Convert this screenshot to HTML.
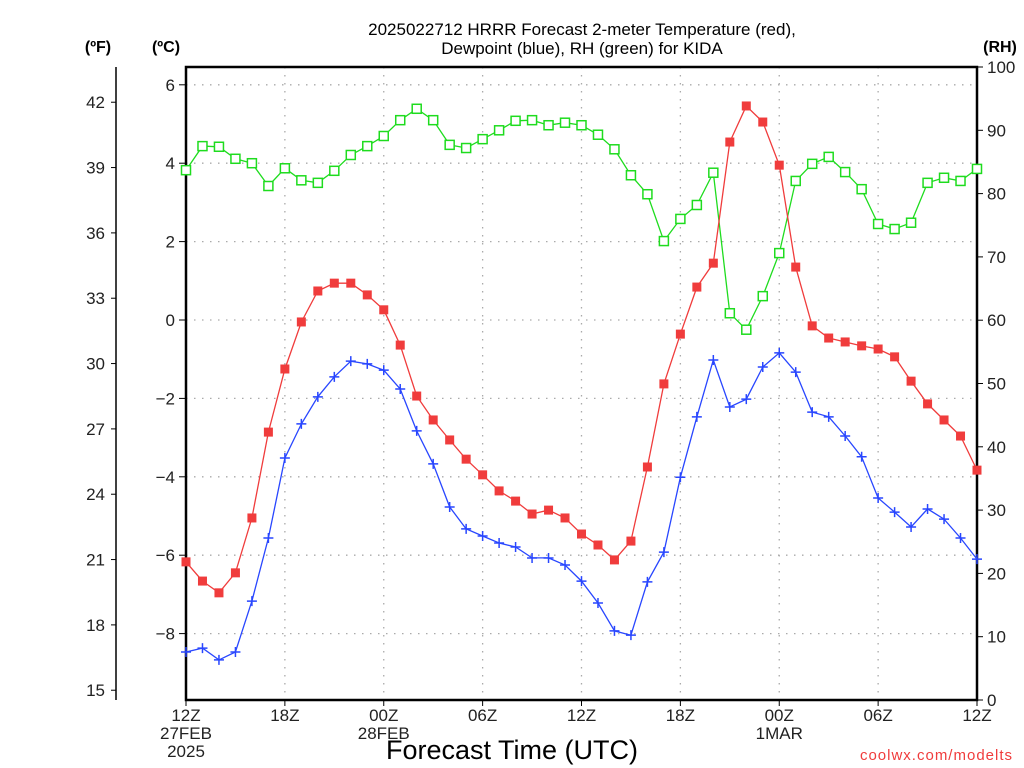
<!DOCTYPE html>
<html><head><meta charset="utf-8">
<style>
html,body{margin:0;padding:0;background:#fff;}
svg{display:block;font-family:"Liberation Sans",sans-serif;}
</style></head>
<body>
<svg id="chart" width="1024" height="768" viewBox="0 0 1024 768" xmlns="http://www.w3.org/2000/svg">
<rect x="0" y="0" width="1024" height="768" fill="#fff"/>
<g id="grid"></g>
<g id="axes"></g>
<g id="series"></g>
<text x="582" y="35" font-size="17" text-anchor="middle">2025022712 HRRR Forecast 2-meter Temperature (red),</text>
<text x="582" y="54" font-size="17" text-anchor="middle">Dewpoint (blue), RH (green) for KIDA</text>
<text x="98" y="52" font-size="16" font-weight="bold" text-anchor="middle">(ºF)</text>
<text x="166" y="52" font-size="16" font-weight="bold" text-anchor="middle">(ºC)</text>
<text x="1000" y="52" font-size="16" font-weight="bold" text-anchor="middle">(RH)</text>
<text x="512" y="759" font-size="27" text-anchor="middle">Forecast Time (UTC)</text>
<text x="1013" y="760" font-size="15" fill="#f03c3c" text-anchor="end" letter-spacing="1">coolwx.com/modelts</text>
</svg>
<script>
const hours = [];
for (let i = 0; i <= 48; i++) hours.push(i);
const tempC = [-6.17,-6.66,-6.96,-6.45,-5.05,-2.86,-1.25,-0.05,0.74,0.94,0.94,0.64,0.26,-0.64,-1.94,-2.55,-3.06,-3.55,-3.95,-4.36,-4.62,-4.95,-4.85,-5.05,-5.46,-5.74,-6.12,-5.64,-3.75,-1.63,-0.36,0.84,1.45,4.54,5.46,5.05,3.95,1.35,-0.15,-0.46,-0.56,-0.66,-0.74,-0.94,-1.56,-2.14,-2.55,-2.96,-3.83];
const dewC = [-8.47,-8.37,-8.67,-8.47,-7.17,-5.56,-3.52,-2.65,-1.96,-1.45,-1.05,-1.12,-1.28,-1.76,-2.83,-3.67,-4.77,-5.33,-5.51,-5.69,-5.79,-6.07,-6.07,-6.25,-6.66,-7.22,-7.93,-8.04,-6.68,-5.92,-4.01,-2.47,-1.02,-2.22,-2.02,-1.20,-0.84,-1.33,-2.35,-2.47,-2.96,-3.49,-4.54,-4.90,-5.28,-4.82,-5.08,-5.56,-6.10];
const rh = [83.7,87.5,87.4,85.5,84.8,81.2,84.0,82.1,81.7,83.6,86.1,87.5,89.1,91.6,93.4,91.6,87.7,87.2,88.6,90.0,91.5,91.6,90.8,91.2,90.8,89.3,87.0,82.9,79.9,72.5,76.0,78.2,83.3,61.1,58.5,63.8,70.6,82.0,84.7,85.8,83.4,80.7,75.2,74.4,75.4,81.7,82.5,82.0,83.9];
const celsiusTicks = [6,4,2,0,-2,-4,-6,-8];
const fahrenheitTicks = [42,39,36,33,30,27,24,21,18,15];
const rhTicks = [100,90,80,70,60,50,40,30,20,10,0];
const xTickHours = [0,6,12,18,24,30,36,42,48];
const xTickLabels = [["12Z","27FEB","2025"],["18Z"],["00Z","28FEB"],["06Z"],["12Z"],["18Z"],["00Z","1MAR"],["06Z"],["12Z"]];

const L=186,R=977,T=67,B=700;
const xS = h => L + (R-L)*h/48;
const yC = c => 320 - c*39.2;
const yF = f => yC((f-32)/1.8);
const yRH = v => B - (B-T)*v/100;
const NS="http://www.w3.org/2000/svg";
function mk(tag, attrs, parent){const e=document.createElementNS(NS,tag);for(const k in attrs)e.setAttribute(k,attrs[k]);parent.appendChild(e);return e;}
const grid=document.getElementById('grid'),axes=document.getElementById('axes'),series=document.getElementById('series');

celsiusTicks.forEach(c=>{
  const y=yC(c);
  const g=mk('line',{x1:L,x2:R,y1:y,y2:y,stroke:'#aaa','stroke-width':1.3,'stroke-dasharray':'1.5 6.5'},grid);
  
  
  const t=mk('line',{x1:L-7,x2:L,y1:y,y2:y,stroke:'#000','stroke-width':1},axes);
  
  
  const tx=mk('text',{x:L-11,y:y+6,'font-size':17,'text-anchor':'end',fill:'#222'},axes);
  tx.textContent=(c<0?'\u2212':'')+Math.abs(c);
  
  
});
xTickHours.forEach((h,i)=>{
  const x=xS(h);
  if(h>0&&h<48){
    const g=mk('line',{x1:x,x2:x,y1:T,y2:B,stroke:'#aaa','stroke-width':1.3,'stroke-dasharray':'1.5 6.5'},grid);
    
    
  }
  const t=mk('line',{x1:x,x2:x,y1:B,y2:B+6,stroke:'#000','stroke-width':1},axes);
  
  
  xTickLabels[i].forEach((s,j)=>{
    const tx=mk('text',{x:x,y:721+j*18,'font-size':17,'text-anchor':'middle',fill:'#222'},axes);
    tx.textContent=s;
    
    
  });
});
const fl=mk('line',{x1:116,x2:116,y1:T,y2:B,stroke:'#000','stroke-width':1.5},axes);


fahrenheitTicks.forEach(f=>{
  const y=yF(f);
  const t=mk('line',{x1:111,x2:116,y1:y,y2:y,stroke:'#000','stroke-width':1},axes);
  
  
  const tx=mk('text',{x:105,y:y+6,'font-size':17,'text-anchor':'end',fill:'#222'},axes);
  tx.textContent=f;
  
  
});
rhTicks.forEach(v=>{
  const y=yRH(v);
  const t=mk('line',{x1:R,x2:R+6,y1:y,y2:y,stroke:'#000','stroke-width':1},axes);
  
  
  const tx=mk('text',{x:987,y:y+6,'font-size':17,'text-anchor':'start',fill:'#222'},axes);
  tx.textContent=v;
  
  
});
const frame=mk('rect',{x:L,y:T,width:R-L,height:B-T,fill:'none',stroke:'#000','stroke-width':2.5},axes);



function drawSeries(vals, yf, color, kind, name){
  const g=mk('g',{},series);
  
  
  const pts=vals.map((v,i)=>xS(hours[i]).toFixed(1)+','+yf(v).toFixed(1)).join(' ');
  const pl=mk('polyline',{points:pts,fill:'none',stroke:color,'stroke-width':1.3},g);
  
  
  vals.forEach((v,i)=>{
    const x=xS(hours[i]),y=yf(v);
    let m;
    if(kind==='filled'){
      m=mk('rect',{x:x-4.5,y:y-4.5,width:9,height:9,fill:color},g);
    }else if(kind==='open'){
      m=mk('rect',{x:x-4.5,y:y-4.5,width:9,height:9,fill:'#fff',stroke:color,'stroke-width':1.5},g);
    }else{
      m=mk('path',{d:`M${x-5},${y}H${x+5}M${x},${y-5}V${y+5}`,stroke:color,'stroke-width':1.5},g);
    }
    
    
  });
}
drawSeries(rh, yRH, '#1edc1e', 'open', 'rh-series');
drawSeries(tempC, yC, '#f03c3c', 'filled', 'temperature-series');
drawSeries(dewC, yC, '#2846ff', 'plus', 'dewpoint-series');
</script>
</body></html>
